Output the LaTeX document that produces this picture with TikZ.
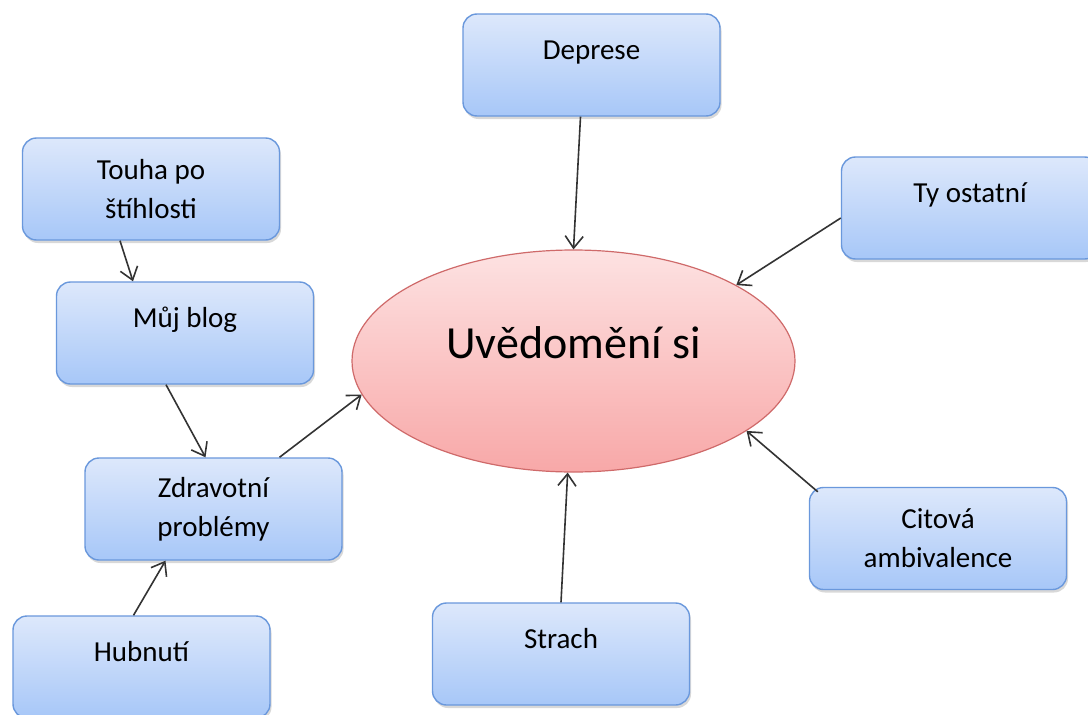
\documentclass[tikz,border=0pt]{standalone}
\usepackage{fontspec}
\setmainfont{Carlito}
\usepackage{tikz}
\usetikzlibrary{shapes.geometric, arrows.meta, shadows}

\definecolor{boxtop}{HTML}{DDE8FB}
\definecolor{boxbot}{HTML}{A7C7F8}
\definecolor{boxline}{HTML}{6A98DC}
\definecolor{elltop}{HTML}{FDE2E2}
\definecolor{ellbot}{HTML}{F8A8A8}
\definecolor{ellline}{HTML}{CF6A6A}

\tikzstyle{topic} = [
  rectangle, rounded corners=14pt,
  draw=boxline, line width=1.4pt,
  top color=boxtop, bottom color=boxbot,
  minimum width=257pt, minimum height=102pt,
  align=center, font=\fontsize{29}{39}\selectfont,
  drop shadow={shadow xshift=1.5pt, shadow yshift=-3pt, opacity=0.3}
]
\tikzstyle{oneline} = [text height=22pt, text depth=33pt]
\tikzstyle{core} = [
  ellipse, draw=ellline, line width=1.2pt,
  top color=elltop, bottom color=ellbot,
  minimum width=443pt, minimum height=222pt, inner sep=0pt,
  font=\fontsize{46}{55}\selectfont,
  text height=34pt, text depth=40pt
]
\tikzstyle{arrow} = [-{Straight Barb[length=12pt,width=18pt,line width=1.6pt]}, line width=1.6pt, black!80]

\begin{document}
\begin{tikzpicture}[x=1pt, y=-1pt]

  \clip (0,0) rectangle (1088,715);
  \fill[white] (0,0) rectangle (1088,715);

  % Centre
  \node[core] (aware) at (573.5, 361) {Uvědomění si};

  % Topics
  \node[topic, oneline] (depr) at (591.5, 65) {Deprese};
  \node[topic, oneline] (others) at (970, 208) {Ty ostatní};
  \node[topic] (thin) at (151, 189) {Touha po\\štíhlosti};
  \node[topic, oneline] (blog) at (185, 333) {Můj blog};
  \node[topic] (health) at (213.5, 509) {Zdravotní\\problémy};
  \node[topic, oneline] (loss) at (141.5, 667) {Hubnutí};
  \node[topic, oneline] (fear) at (561, 654) {Strach};
  \node[topic] (ambi) at (938, 538.5) {Citová\\ambivalence};

  % Arrows to the centre
  \draw[arrow] ([xshift=-11pt]depr.south) -- (aware.north);
  \draw[arrow] ([yshift=-10pt]others.west) -- (aware.25);
  \draw[arrow] ([xshift=66pt]health.north) -- (aware.189);
  \draw[arrow] (fear.north) -- (aware.267);
  \draw[arrow] ([xshift=9pt,yshift=-5pt]ambi.north west) -- (aware.338);

  % Chain on the left
  \draw[arrow] ([xshift=-31pt]thin.south) -- ([xshift=-52pt]blog.north);
  \draw[arrow] ([xshift=-19pt]blog.south) -- ([xshift=-8pt]health.north);
  \draw[arrow] ([xshift=-8pt]loss.north) -- ([xshift=-48pt]health.south);

\end{tikzpicture}
\end{document}
